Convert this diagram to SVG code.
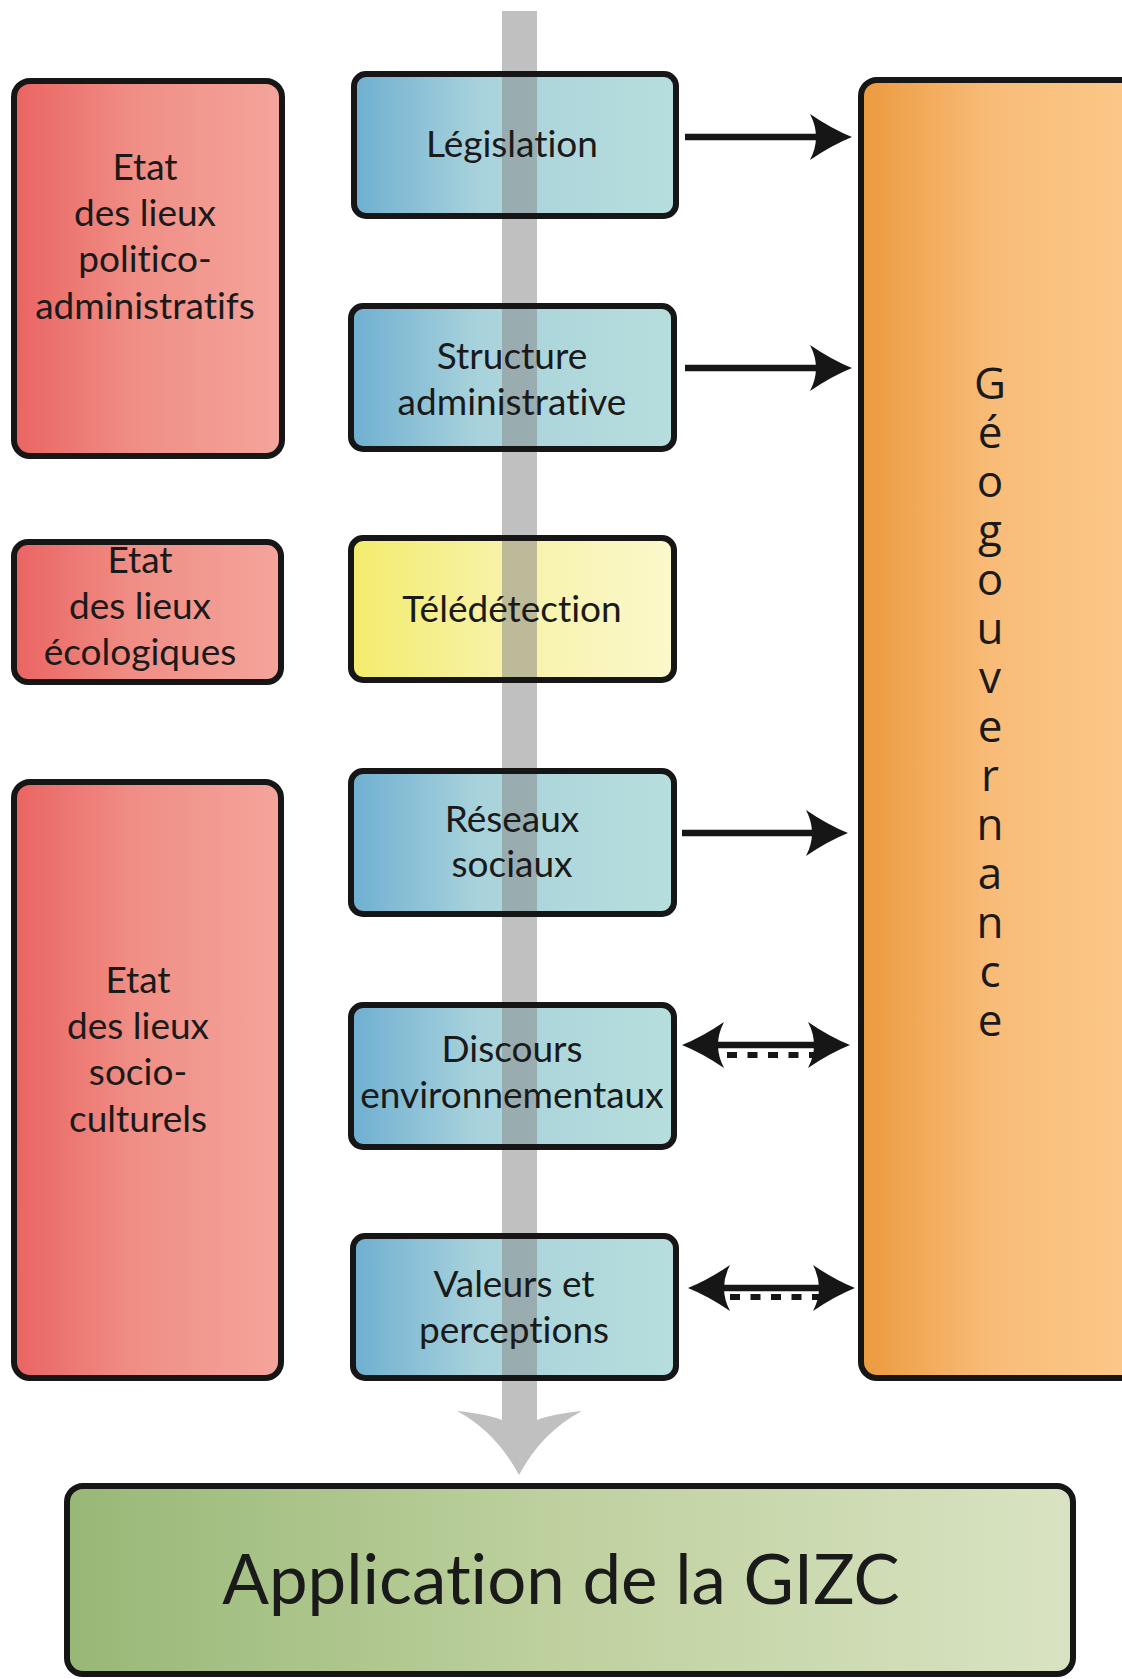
<svg xmlns="http://www.w3.org/2000/svg" width="1122" height="1679" viewBox="0 0 1122 1679">
  <defs>
    <linearGradient id="gRed" x1="0" y1="0" x2="1" y2="0">
      <stop offset="0" stop-color="#ea6462"/>
      <stop offset="0.45" stop-color="#f08e85"/>
      <stop offset="1" stop-color="#f4a59c"/>
    </linearGradient>
    <linearGradient id="gBlue" x1="0" y1="0" x2="1" y2="0">
      <stop offset="0" stop-color="#6fafd1"/>
      <stop offset="0.4" stop-color="#a9d3dc"/>
      <stop offset="1" stop-color="#b7dedd"/>
    </linearGradient>
    <linearGradient id="gYellow" x1="0" y1="0" x2="1" y2="0">
      <stop offset="0" stop-color="#f3ec6c"/>
      <stop offset="0.45" stop-color="#f7f2a6"/>
      <stop offset="1" stop-color="#fbf8cc"/>
    </linearGradient>
    <linearGradient id="gOrange" x1="0" y1="0" x2="1" y2="0">
      <stop offset="0" stop-color="#ec9a3e"/>
      <stop offset="0.45" stop-color="#f8bc78"/>
      <stop offset="1" stop-color="#fcc98a"/>
    </linearGradient>
    <linearGradient id="gGreen" x1="0" y1="0" x2="1" y2="0">
      <stop offset="0" stop-color="#98b877"/>
      <stop offset="0.5" stop-color="#bfd19f"/>
      <stop offset="1" stop-color="#d9e3c3"/>
    </linearGradient>
    <!-- barbed arrowhead; origin sits at the notch -->
    <marker id="head" markerUnits="userSpaceOnUse" viewBox="-20 -30 60 60" markerWidth="60" markerHeight="60" refX="0" refY="0" orient="auto-start-reverse" overflow="visible">
      <path d="M30,0 Q10,-8 -12,-23 Q0,0 -12,23 Q10,8 30,0 Z" fill="#161616"/>
    </marker>
    <style>
      .box { stroke: #161616; stroke-width: 6; }
      .edge { fill: none; stroke: #161616; stroke-width: 6; }
      .veil { fill: #898989; fill-opacity: 0.535; }
      .lbl { font-family: Lato, "Open Sans", "Liberation Sans", sans-serif; font-size: 37px; fill: #1a1a1a; text-anchor: middle; font-variant-ligatures: none; }
      .vert { font-family: "Open Sans", Lato, "Liberation Sans", sans-serif; font-size: 44px; fill: #1a1a1a; writing-mode: vertical-rl; text-orientation: upright; letter-spacing: -11px; }
      .big { font-family: Lato, "Open Sans", "Liberation Sans", sans-serif; font-size: 69px; fill: #1a1a1a; text-anchor: middle; font-variant-ligatures: none; }
      .link { stroke: #161616; stroke-width: 6.5; fill: none; }
      .dash { stroke: #161616; stroke-width: 6; fill: none; stroke-dasharray: 10 10.5; }
    </style>
  </defs>

  <rect width="1122" height="1679" fill="#ffffff"/>

  <!-- main grey flow arrow running down the central column -->
  <g id="flow-arrow">
    <path d="M502,11 H537 V1420 Q552,1414 582,1411 Q542,1432 519,1475 Q496,1432 457,1411 Q487,1414 502,1420 Z" fill="#c0c0c0"/>
  </g>

  <!-- left column: état des lieux -->
  <g id="etat-politico">
    <rect class="box" x="14" y="81" width="268" height="375" rx="16" fill="url(#gRed)"/>
    <text class="lbl" x="145" y="180">Etat</text>
    <text class="lbl" x="145" y="226">des lieux</text>
    <text class="lbl" x="145" y="272">politico-</text>
    <text class="lbl" x="145" y="319">administratifs</text>
  </g>
  <g id="etat-ecologique">
    <rect class="box" x="14" y="542" width="267" height="140" rx="14" fill="url(#gRed)"/>
    <text class="lbl" x="140" y="573">Etat</text>
    <text class="lbl" x="140" y="619">des lieux</text>
    <text class="lbl" x="140" y="665">écologiques</text>
  </g>
  <g id="etat-socio">
    <rect class="box" x="14" y="782" width="267" height="596" rx="16" fill="url(#gRed)"/>
    <text class="lbl" x="138" y="993">Etat</text>
    <text class="lbl" x="138" y="1039">des lieux</text>
    <text class="lbl" x="138" y="1085">socio-</text>
    <text class="lbl" x="138" y="1132">culturels</text>
  </g>

  <!-- central column: fill, grey veil where the flow arrow crosses, border, label -->
  <g id="legislation">
    <rect x="354" y="74" width="322" height="142" rx="12" fill="url(#gBlue)"/>
    <rect class="veil" x="502" y="74" width="35" height="142"/>
    <rect class="edge" x="354" y="74" width="322" height="142" rx="12"/>
    <text class="lbl" x="512" y="157">Législation</text>
  </g>
  <g id="structure">
    <rect x="351" y="306" width="323" height="143" rx="12" fill="url(#gBlue)"/>
    <rect class="veil" x="502" y="306" width="35" height="143"/>
    <rect class="edge" x="351" y="306" width="323" height="143" rx="12"/>
    <text class="lbl" x="512" y="369">Structure</text>
    <text class="lbl" x="512" y="415">administrative</text>
  </g>
  <g id="teledetection">
    <rect x="351" y="538" width="323" height="142" rx="12" fill="url(#gYellow)"/>
    <rect class="veil" x="502" y="538" width="35" height="142"/>
    <rect class="edge" x="351" y="538" width="323" height="142" rx="12"/>
    <text class="lbl" x="512" y="622">Télédétection</text>
  </g>
  <g id="reseaux">
    <rect x="351" y="771" width="323" height="143" rx="12" fill="url(#gBlue)"/>
    <rect class="veil" x="502" y="771" width="35" height="143"/>
    <rect class="edge" x="351" y="771" width="323" height="143" rx="12"/>
    <text class="lbl" x="512" y="832">Réseaux</text>
    <text class="lbl" x="512" y="877">sociaux</text>
  </g>
  <g id="discours">
    <rect x="351" y="1005" width="323" height="142" rx="12" fill="url(#gBlue)"/>
    <rect class="veil" x="502" y="1005" width="35" height="142"/>
    <rect class="edge" x="351" y="1005" width="323" height="142" rx="12"/>
    <text class="lbl" x="512" y="1062">Discours</text>
    <text class="lbl" x="512" y="1108">environnementaux</text>
  </g>
  <g id="valeurs">
    <rect x="353" y="1236" width="323" height="142" rx="12" fill="url(#gBlue)"/>
    <rect class="veil" x="502" y="1236" width="35" height="142"/>
    <rect class="edge" x="353" y="1236" width="323" height="142" rx="12"/>
    <text class="lbl" x="514" y="1297">Valeurs et</text>
    <text class="lbl" x="514" y="1343">perceptions</text>
  </g>

  <!-- right column -->
  <g id="geogouvernance">
    <rect class="box" x="861" y="80" width="290" height="1298" rx="16" fill="url(#gOrange)"/>
    <text class="vert" x="990" y="352">Géogouvernance</text>
  </g>

  <!-- bottom result -->
  <g id="application">
    <rect class="box" x="67" y="1486" width="1006" height="188" rx="16" fill="url(#gGreen)"/>
    <text class="big" x="561" y="1604">Application de la GIZC</text>
  </g>

  <!-- links towards Géogouvernance -->
  <g id="connectors">
    <line class="link" x1="685" y1="137" x2="822" y2="137" marker-end="url(#head)"/>
    <line class="link" x1="685" y1="368" x2="822" y2="368" marker-end="url(#head)"/>
    <line class="link" x1="682" y1="833" x2="818" y2="833" marker-end="url(#head)"/>
    <line class="link" x1="712" y1="1045" x2="820" y2="1045" marker-start="url(#head)" marker-end="url(#head)"/>
    <line class="dash" x1="727" y1="1055" x2="815" y2="1055"/>
    <line class="link" x1="718" y1="1288" x2="825" y2="1288" marker-start="url(#head)" marker-end="url(#head)"/>
    <line class="dash" x1="730" y1="1297" x2="820" y2="1297"/>
  </g>
</svg>
